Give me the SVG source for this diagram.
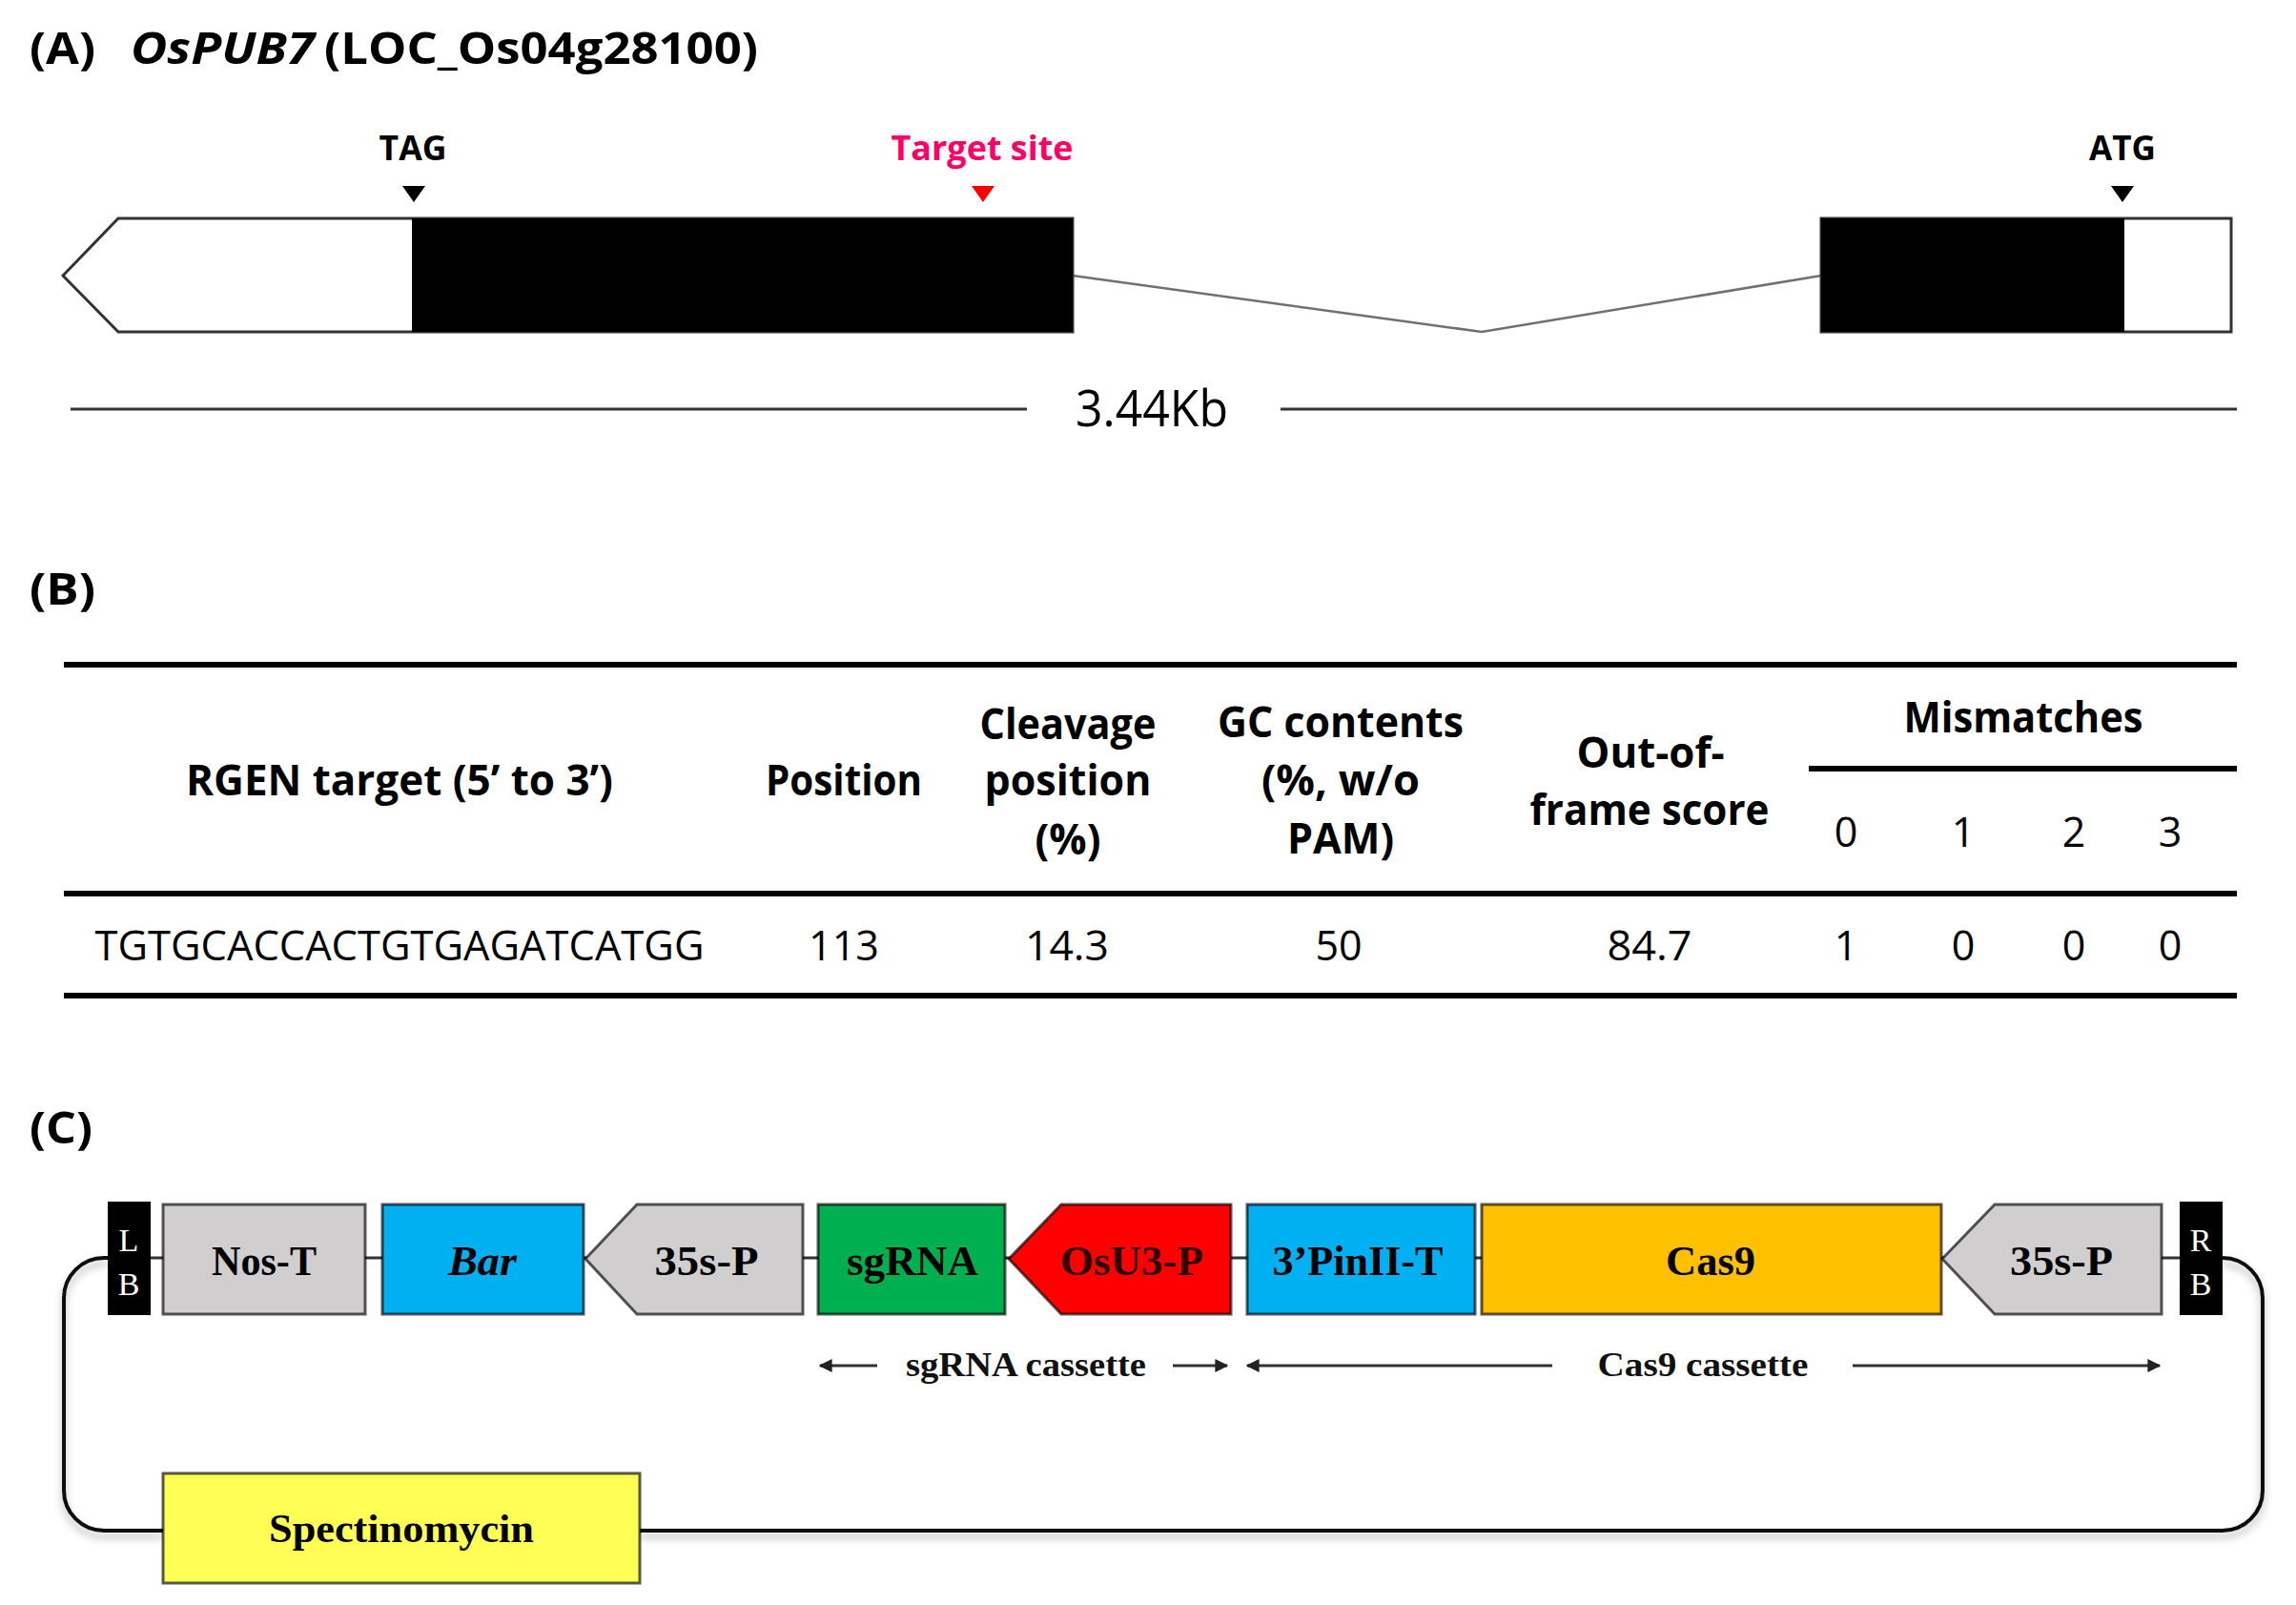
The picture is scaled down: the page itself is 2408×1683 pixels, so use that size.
<svg xmlns="http://www.w3.org/2000/svg" width="2408" height="1683" viewBox="0 0 2408 1683">
<defs>
<style>
.ti{font-family:"Open Sans","Noto Sans",sans-serif;font-weight:bold;font-size:46px;fill:#000}
.lb{font-family:"Open Sans","Noto Sans",sans-serif;font-weight:bold;font-size:35px;fill:#000}
.sc{font-family:"Open Sans","Noto Sans",sans-serif;font-size:53px;fill:#000}
.th{font-family:"Open Sans","Noto Sans",sans-serif;font-weight:bold;font-size:45px;fill:#000;text-anchor:middle}
.td{font-family:"Open Sans","Noto Sans",sans-serif;font-size:43px;fill:#000;text-anchor:middle}
.rule{stroke:#000;stroke-width:6}
.bx{stroke:#000;stroke-opacity:0.65;stroke-width:3}
.bt{font-family:"Liberation Serif","Times New Roman",serif;font-weight:bold;font-size:44px;fill:#000;text-anchor:middle}
.bd{font-family:"Liberation Serif","Times New Roman",serif;font-size:34px;fill:#fff;text-anchor:middle}
.ct{font-family:"Liberation Serif","Times New Roman",serif;font-weight:bold;font-size:36px;fill:#111;text-anchor:middle}
.ar{stroke:#333;stroke-width:3;fill:none;marker-end:url(#ah)}
</style>
<marker id="ah" viewBox="0 0 10 10" refX="9" refY="5" markerWidth="14" markerHeight="14" markerUnits="userSpaceOnUse" orient="auto">
<path d="M0,0 L10,5 L0,10 z" fill="#222"/>
</marker>
<filter id="sh" x="-5%" y="-20%" width="110%" height="140%">
<feDropShadow dx="0" dy="6" stdDeviation="4" flood-color="#000" flood-opacity="0.3"/>
</filter>
</defs>
<rect width="2408" height="1683" fill="#fff"/>

<!-- (A) -->
<g id="titleA">
<text class="ti" x="31" y="67" textLength="69" lengthAdjust="spacingAndGlyphs">(A)</text>
<text class="ti" x="137" y="67" font-style="italic" textLength="193" lengthAdjust="spacingAndGlyphs">OsPUB7</text>
<text class="ti" x="340" y="67" textLength="455" lengthAdjust="spacingAndGlyphs">(LOC_Os04g28100)</text>
</g>
<g id="connectorsA">
<polyline points="1125,289 1554,348 1910,289" fill="none" stroke="#707070" stroke-width="2.5"/>
<line x1="74" y1="429" x2="1077" y2="429" stroke="#333" stroke-width="3"/>
<line x1="1343" y1="429" x2="2346" y2="429" stroke="#333" stroke-width="3"/>
</g>
<g id="exon1">
<polygon points="66,289 124,229 1125,229 1125,348 124,348" fill="#fff" stroke="#333" stroke-width="3"/>
<rect x="432" y="229" width="693" height="119" fill="#000"/>
</g>
<g id="exon2">
<rect x="1910" y="229" width="430" height="119" fill="#fff" stroke="#333" stroke-width="3"/>
<rect x="1910" y="229" width="318" height="119" fill="#000"/>
</g>
<g id="tag">
<text class="lb" x="433" y="168" text-anchor="middle" textLength="71" lengthAdjust="spacingAndGlyphs">TAG</text>
<polygon points="422,195 446,195 434,212" fill="#000"/>
</g>
<g id="target">
<text class="lb" x="1030" y="168" text-anchor="middle" style="fill:#FF0066" textLength="191" lengthAdjust="spacingAndGlyphs">Target site</text>
<polygon points="1019,195 1043,195 1031,212" fill="#FF0000"/>
</g>
<g id="atg">
<text class="lb" x="2226" y="168" text-anchor="middle" textLength="70" lengthAdjust="spacingAndGlyphs">ATG</text>
<polygon points="2214,195 2238,195 2226,212" fill="#000"/>
</g>
<g id="scale">
<text class="sc" x="1208" y="447" text-anchor="middle" textLength="160" lengthAdjust="spacingAndGlyphs">3.44Kb</text>
</g>

<!-- (B) -->
<g id="titleB"><text class="ti" x="31" y="634" textLength="69" lengthAdjust="spacingAndGlyphs">(B)</text></g>
<g id="table">
<line class="rule" x1="67" y1="697" x2="2346" y2="697"/>
<line class="rule" x1="1897" y1="806" x2="2346" y2="806"/>
<line class="rule" x1="67" y1="937" x2="2346" y2="937"/>
<line class="rule" x1="67" y1="1044" x2="2346" y2="1044"/>
<text class="th" x="419" y="834" textLength="448" lengthAdjust="spacingAndGlyphs">RGEN target (5’ to 3’)</text>
<text class="th" x="885" y="834" textLength="164" lengthAdjust="spacingAndGlyphs">Position</text>
<text class="th" x="1120" y="775" textLength="185" lengthAdjust="spacingAndGlyphs">Cleavage</text>
<text class="th" x="1120" y="834" textLength="175" lengthAdjust="spacingAndGlyphs">position</text>
<text class="th" x="1120" y="896" textLength="69" lengthAdjust="spacingAndGlyphs">(%)</text>
<text class="th" x="1406" y="773" textLength="258" lengthAdjust="spacingAndGlyphs">GC contents</text>
<text class="th" x="1406" y="834" textLength="166" lengthAdjust="spacingAndGlyphs">(%, w/o</text>
<text class="th" x="1406" y="895" textLength="112" lengthAdjust="spacingAndGlyphs">PAM)</text>
<text class="th" x="1731" y="805" textLength="155" lengthAdjust="spacingAndGlyphs">Out-of-</text>
<text class="th" x="1730" y="865" textLength="251" lengthAdjust="spacingAndGlyphs">frame score</text>
<text class="th" x="2122" y="768" textLength="251" lengthAdjust="spacingAndGlyphs">Mismatches</text>
<text class="td" x="1936" y="888">0</text>
<text class="td" x="2059" y="888">1</text>
<text class="td" x="2175" y="888">2</text>
<text class="td" x="2276" y="888">3</text>
<text class="td" x="419" y="1007" textLength="639" lengthAdjust="spacingAndGlyphs">TGTGCACCACTGTGAGATCATGG</text>
<text class="td" x="885" y="1007" textLength="74" lengthAdjust="spacingAndGlyphs">113</text>
<text class="td" x="1119" y="1007" textLength="88" lengthAdjust="spacingAndGlyphs">14.3</text>
<text class="td" x="1404" y="1007">50</text>
<text class="td" x="1730" y="1007" textLength="89" lengthAdjust="spacingAndGlyphs">84.7</text>
<text class="td" x="1936" y="1007">1</text>
<text class="td" x="2059" y="1007">0</text>
<text class="td" x="2175" y="1007">0</text>
<text class="td" x="2276" y="1007">0</text>
</g>

<!-- (C) -->
<g id="titleC"><text class="ti" x="31" y="1199" textLength="66" lengthAdjust="spacingAndGlyphs">(C)</text></g>
<g id="connectors">
<path d="M113,1319 H109 A42,42 0 0 0 67,1361 V1563 A42,42 0 0 0 109,1605 H171 M671,1605 H2331 A42,42 0 0 0 2373,1563 V1361 A42,42 0 0 0 2331,1319" fill="none" stroke="#111" stroke-width="4" filter="url(#sh)"/>
<line x1="158" y1="1319" x2="2286" y2="1319" stroke="#333" stroke-width="3"/>
<line class="ar" x1="920" y1="1432" x2="860" y2="1432"/>
<line class="ar" x1="1230" y1="1432" x2="1287" y2="1432"/>
<line class="ar" x1="1628" y1="1432" x2="1308" y2="1432"/>
<line class="ar" x1="1943" y1="1432" x2="2265" y2="1432"/>
<text class="ct" x="1076" y="1443" textLength="252" lengthAdjust="spacingAndGlyphs">sgRNA cassette</text>
<text class="ct" x="1786" y="1443" textLength="221" lengthAdjust="spacingAndGlyphs">Cas9 cassette</text>
</g>
<g id="LB">
<rect x="113" y="1260" width="45" height="119" fill="#000"/>
<text class="bd" x="135" y="1312">L</text>
<text class="bd" x="135" y="1358">B</text>
</g>
<g id="NosT">
<rect class="bx" x="171" y="1263" width="212" height="115" fill="#D0CECE"/>
<text class="bt" x="277" y="1337" textLength="110" lengthAdjust="spacingAndGlyphs">Nos-T</text>
</g>
<g id="Bar">
<rect class="bx" x="401" y="1263" width="211" height="115" fill="#00B0F0"/>
<text class="bt" x="506" y="1337" font-style="italic" textLength="72" lengthAdjust="spacingAndGlyphs">Bar</text>
</g>
<g id="P35s1">
<polygon class="bx" points="614,1320 668,1263 842,1263 842,1378 668,1378" fill="#D0CECE"/>
<text class="bt" x="741" y="1337" textLength="109" lengthAdjust="spacingAndGlyphs">35s-P</text>
</g>
<g id="sgRNA">
<rect class="bx" x="858" y="1263" width="196" height="115" fill="#00B050"/>
<text class="bt" x="957" y="1337" textLength="138" lengthAdjust="spacingAndGlyphs">sgRNA</text>
</g>
<g id="OsU3P">
<polygon class="bx" points="1058,1320 1113,1263 1291,1263 1291,1378 1113,1378" fill="#FF0000"/>
<text class="bt" x="1187" y="1337" style="fill:#2a0000" textLength="150" lengthAdjust="spacingAndGlyphs">OsU3-P</text>
</g>
<g id="PinII">
<rect class="bx" x="1308" y="1263" width="239" height="115" fill="#00B0F0"/>
<text class="bt" x="1424" y="1337" textLength="179" lengthAdjust="spacingAndGlyphs">3’PinII-T</text>
</g>
<g id="Cas9">
<rect class="bx" x="1554" y="1263" width="482" height="115" fill="#FFC000"/>
<text class="bt" x="1794" y="1337" textLength="94" lengthAdjust="spacingAndGlyphs">Cas9</text>
</g>
<g id="P35s2">
<polygon class="bx" points="2037,1320 2092,1263 2267,1263 2267,1378 2092,1378" fill="#D0CECE"/>
<text class="bt" x="2162" y="1337" textLength="108" lengthAdjust="spacingAndGlyphs">35s-P</text>
</g>
<g id="RB">
<rect x="2286" y="1260" width="45" height="119" fill="#000"/>
<text class="bd" x="2308" y="1312">R</text>
<text class="bd" x="2308" y="1358">B</text>
</g>
<g id="Spectinomycin">
<rect class="bx" x="171" y="1545" width="500" height="115" fill="#FFFF55"/>
<text class="bt" x="421" y="1617" style="font-size:42px" textLength="278" lengthAdjust="spacingAndGlyphs">Spectinomycin</text>
</g>
</svg>
